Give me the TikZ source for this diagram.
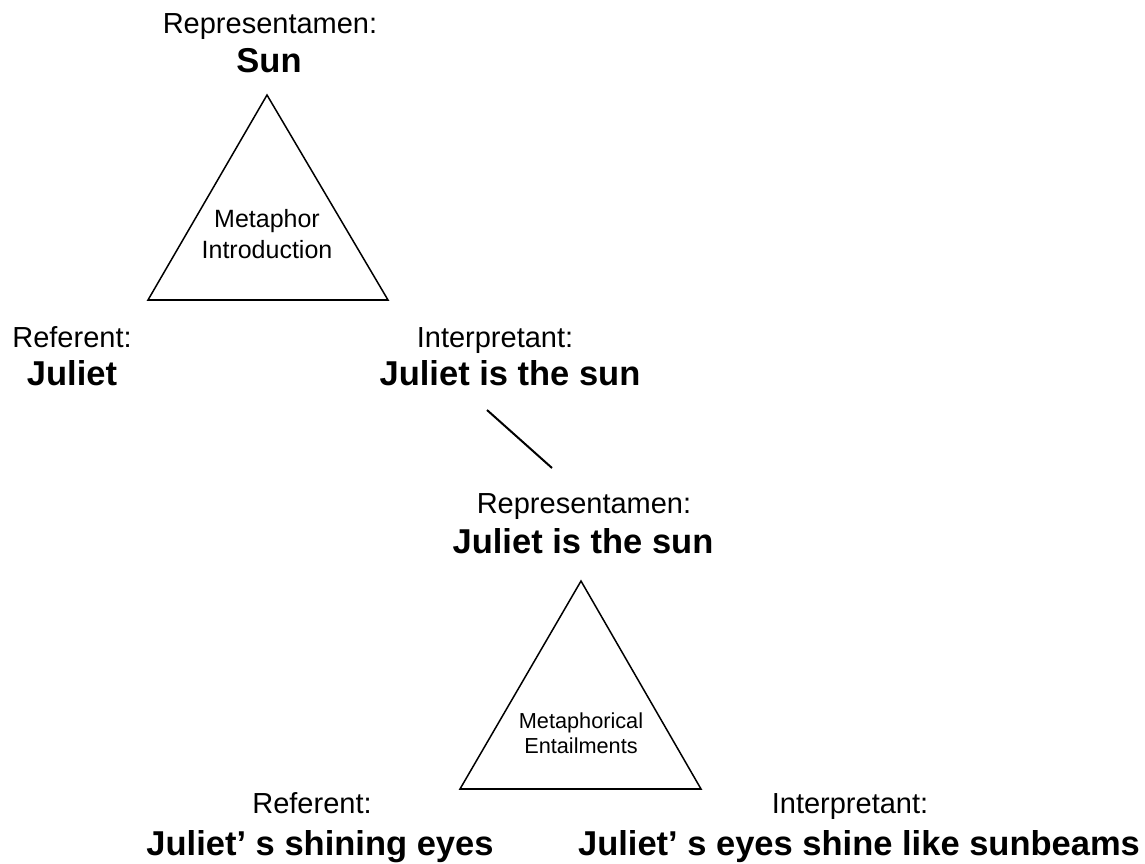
\documentclass[tikz,border=0pt]{standalone}
\usepackage{fontspec}
\setmainfont{Liberation Sans}

\begin{document}
\begin{tikzpicture}[
    x=0.5pt, y=-0.5pt,
    role/.style={inner sep=0pt, anchor=base, font=\fontsize{14.5}{17}\selectfont},
    term/.style={inner sep=0pt, anchor=base, font=\bfseries\fontsize{17.25}{20}\selectfont},
    stage/.style={inner sep=0pt, align=center},
    tri/.style={draw=black, line width=0.75pt, line join=miter},
    triBase/.style={draw=black, line width=1.2pt},
    link/.style={draw=black, line width=1pt}
]
    \useasboundingbox (0,0) rectangle (1145,863);

    % first triad: metaphor introduction
    \node [role] (rep1) at (270,33) {Representamen:};
    \node [term] (sign1) at (269,72) {Sun};
    \coordinate (t1top) at (267,95);
    \coordinate (t1left) at (148,300);
    \coordinate (t1right) at (388,300);
    \draw [tri] (t1top) -- (t1left) -- (t1right) -- cycle;
    \draw [triBase] (t1left) -- (t1right);
    \node [stage, font=\fontsize{12.5}{15.5}\selectfont] (intro) at (267,234) {Metaphor\\Introduction};
    \node [role] (ref1) at (72,347) {Referent:};
    \node [term] (obj1) at (72,385) {Juliet};
    \node [role] (int1) at (495,347) {Interpretant:};
    \node [term] (interp1) at (510,385) {Juliet is the sun};

    % link between the triads
    \coordinate (linkStart) at (487,410);
    \coordinate (linkEnd) at (552,468);
    \draw [link] (linkStart) -- (linkEnd);

    % second triad: metaphorical entailments
    \node [role] (rep2) at (584,513) {Representamen:};
    \node [term] (sign2) at (583,553) {Juliet is the sun};
    \coordinate (t2top) at (581,581);
    \coordinate (t2left) at (460,789);
    \coordinate (t2right) at (701,789);
    \draw [tri] (t2top) -- (t2left) -- (t2right) -- cycle;
    \draw [triBase] (t2left) -- (t2right);
    \node [stage, font=\fontsize{10.85}{12.5}\selectfont] (entail) at (581,733) {Metaphorical\\Entailments};
    \node [role] (ref2) at (312,813) {Referent:};
    \node [term] (obj2) at (320,855) {Juliet’ s shining eyes};
    \node [role] (int2) at (850,813) {Interpretant:};
    \node [term] (interp2) at (859,855) {Juliet’ s eyes shine like sunbeams};
\end{tikzpicture}
\end{document}
